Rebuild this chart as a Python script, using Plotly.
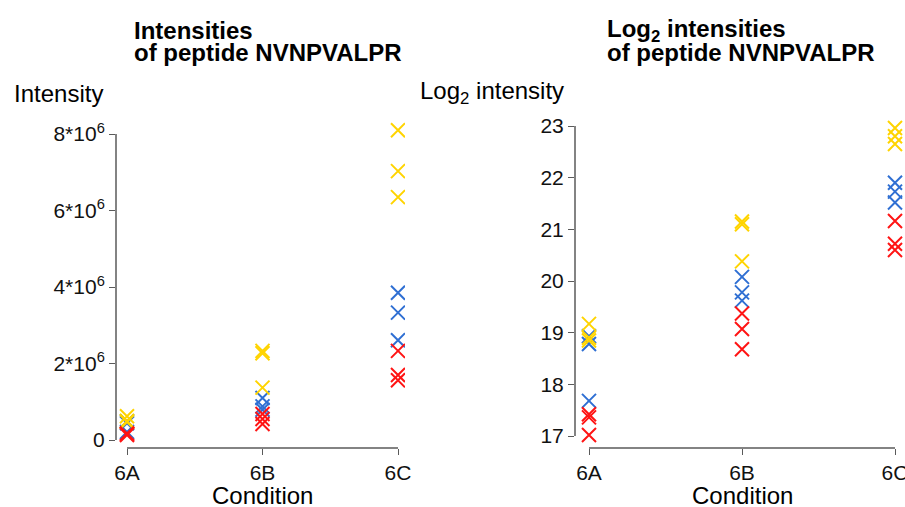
import plotly.graph_objects as go

W, H = 905, 507

conditions = ["6A", "6A", "6A", "6B", "6B", "6B", "6C", "6C", "6C"]
category_labels = ["6A", "6B", "6C"]

# Intensities (left panel)
int_yellow = [0.62e6, 0.50e6, 0.47e6, 2.33e6, 2.27e6, 1.37e6, 8.10e6, 7.03e6, 6.35e6]
int_blue = [0.49e6, 0.44e6, 0.21e6, 1.10e6, 0.88e6, 0.79e6, 3.85e6, 3.33e6, 2.61e6]
int_red = [0.17e6, 0.16e6, 0.13e6, 0.68e6, 0.55e6, 0.42e6, 2.33e6, 1.70e6, 1.56e6]

# Log2 intensities (right panel)
log_yellow = [19.17, 18.90, 18.85, 21.15, 21.10, 20.38, 22.96, 22.80, 22.65]
log_blue = [18.93, 18.78, 17.68, 20.08, 19.78, 19.62, 21.90, 21.73, 21.52]
log_red = [17.42, 17.36, 17.02, 19.37, 19.07, 18.68, 21.16, 20.72, 20.60]

left_ticks = [0, 2e6, 4e6, 6e6, 8e6]
left_ticktext = ["0", "2*10<sup>6</sup>", "4*10<sup>6</sup>", "6*10<sup>6</sup>", "8*10<sup>6</sup>"]
right_ticks = [17, 18, 19, 20, 21, 22, 23]
right_ticktext = ["17", "18", "19", "20", "21", "22", "23"]

colors = {"yellow": "#FFD400", "blue": "#2F6FD3", "red": "#FF1414"}
FONT = "Liberation Sans, Arial, sans-serif"
AXC = "#5a5a5a"

fig = go.Figure()

def add_series(xa, ya, ys, col):
    fig.add_trace(go.Scatter(
        x=conditions, y=ys, mode="markers", xaxis=xa, yaxis=ya,
        marker=dict(symbol="x-thin-open", size=14, color=col,
                    line=dict(width=2, color=col)),
        showlegend=False, hoverinfo="x+y"))

for ys, c in [(int_blue, "blue"), (int_yellow, "yellow"), (int_red, "red")]:
    add_series("x", "y", ys, colors[c])
for ys, c in [(log_blue, "blue"), (log_yellow, "yellow"), (log_red, "red")]:
    add_series("x2", "y2", ys, colors[c])

def px(x):
    return x / W

def py(y):
    return 1 - y / H

top_px, bot_px = 116, 448

tickfont = dict(family=FONT, size=21, color="#111")
common_x = dict(type="category", categoryorder="array", categoryarray=category_labels,
                showgrid=False, zeroline=False, showline=False, ticks="outside",
                ticklen=6, tickwidth=1.3, tickcolor=AXC, tickfont=tickfont,
                fixedrange=True, automargin=False)
common_y = dict(showgrid=False, zeroline=False, showline=False, ticks="outside",
                ticklen=6, tickwidth=1.3, tickcolor=AXC, tickfont=tickfont,
                fixedrange=True, automargin=False)

# left panel geometry: 6A at 127px, 6C at 398px ; 0 at 440px, 8e6 at 134px
lx_unit = (398 - 127) / 2
ly_unit = (440 - 134) / 8e6
fig.update_layout(
    xaxis=dict(common_x, domain=[px(116), px(405)],
               range=[-(127 - 116) / lx_unit, 2 + (405 - 398) / lx_unit], anchor="y"),
    yaxis=dict(common_y, domain=[py(bot_px), py(top_px)], anchor="x",
               range=[-(bot_px - 440) / ly_unit, (440 - top_px) / ly_unit],
               tickvals=left_ticks, ticktext=left_ticktext),
)

# right panel geometry: 6A at 589px, 6C at 895px ; 17 at 436px, 23 at 126px
rx_unit = (895 - 589) / 2
ry_unit = (436 - 126) / 6
fig.update_layout(
    xaxis2=dict(common_x, domain=[px(575), 1.0],
                range=[-(589 - 575) / rx_unit, 2 + (905 - 895) / rx_unit], anchor="y2"),
    yaxis2=dict(common_y, domain=[py(bot_px), py(top_px)], anchor="x2",
                range=[17 - (bot_px - 436) / ry_unit, 23 + (126 - top_px) / ry_unit],
                tickvals=right_ticks, ticktext=right_ticktext),
)

# detached axis lines
line = dict(color=AXC, width=1.5)
fig.add_shape(type="line", xref="x domain", yref="y", x0=0, x1=0, y0=0, y1=8e6, line=line)
fig.add_shape(type="line", xref="x", yref="y domain", x0=0, x1=2, y0=0, y1=0, line=line)
fig.add_shape(type="line", xref="x2 domain", yref="y2", x0=0, x1=0, y0=17, y1=23, line=line)
fig.add_shape(type="line", xref="x2", yref="y2 domain", x0=0, x1=2, y0=0, y1=0, line=line)

def ann(text, x, y, size, bold=False, xanchor="left", xref="paper"):
    t = "<b>" + text + "</b>" if bold else text
    fig.add_annotation(text=t, x=x, y=y, xref=xref, yref="paper", xanchor=xanchor,
                       yanchor="middle", showarrow=False,
                       font=dict(family=FONT, size=size, color="#000"))

# titles
ann("Intensities", px(132), py(31), 24, bold=True)
ann("of peptide NVNPVALPR", px(132), py(53), 24, bold=True)
ann("Log<sub>2</sub> intensities", px(605), py(31), 24, bold=True)
ann("of peptide NVNPVALPR", px(605), py(53), 24, bold=True)
# y axis titles
ann("Intensity", px(12), py(93), 24)
ann("Log<sub>2</sub> intensity", px(418), py(92), 24)
# x axis titles
ann("Condition", 1, py(495), 24, xanchor="center", xref="x")
ann("Condition", 1, py(495), 24, xanchor="center", xref="x2")

fig.update_layout(width=W, height=H, margin=dict(l=0, r=0, t=0, b=0),
                  paper_bgcolor="white", plot_bgcolor="white",
                  font=dict(family=FONT, color="#000"))

fig.write_html("out.html")
